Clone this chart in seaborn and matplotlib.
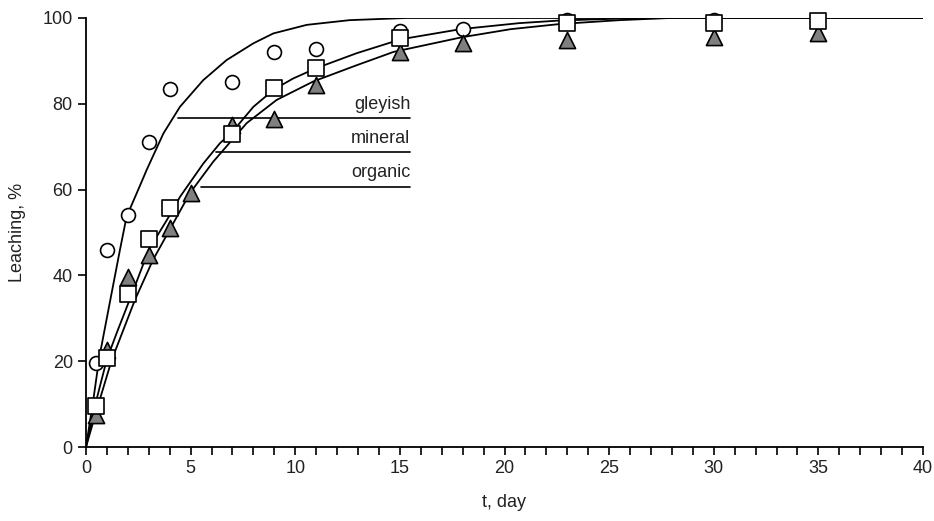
import matplotlib
matplotlib.use("Agg")
import matplotlib.pyplot as plt
import numpy as np
import pandas as pd
import seaborn as sns

# measured points
gley_t = [0.5, 1, 2, 3, 4, 7, 9, 11, 15, 18, 23, 30]
gley_y = [19.5, 46, 54, 71, 83.5, 85, 92, 92.7, 97, 97.4, 99.5, 99.5]
mine_t = [0.5, 1, 2, 3, 4, 7, 9, 11, 15, 23, 30, 35]
mine_y = [9.6, 20.7, 35.6, 48.6, 55.6, 73, 83.6, 88.3, 95.3, 98.9, 98.9, 99.4]
orga_t = [0.5, 1, 2, 3, 4, 5, 7, 9, 11, 15, 18, 23, 30, 35]
orga_y = [7.5, 22.6, 39.7, 44.8, 51, 59.1, 75.1, 76.4, 84.4, 92.1, 94.2, 94.9, 95.6, 96.6]

# model curves
gley_fit_t = [0, 0.35, 0.64, 1.19, 1.62, 1.94, 2.63, 2.9, 3.7, 4.49, 5.6, 6.72, 8.0, 8.95,
              10.55, 12.6, 15.3, 40]
gley_fit_y = [0, 11, 21, 35, 45.9, 53.7, 61.5, 64.6, 73.1, 79.3, 85.5, 90.2, 94.1, 96.4,
              98.4, 99.5, 100, 100]
mine_fit_t = [0, 0.5, 1, 1.5, 2.26, 3, 4, 4.49, 5.61, 6.4, 7, 8, 9, 9.9, 11, 12.94, 14.7, 15,
              17.9, 20.7, 22.6, 25.7, 28, 40]
mine_fit_y = [0, 11, 20.5, 27, 36.5, 46, 54, 58.3, 66.1, 70.8, 73.5, 79.3, 83.4, 85.9, 88.3, 91.8,
              94.5, 95, 97.4, 98.8, 99.4, 99.9, 100, 100]
orga_fit_t = [0, 0.5, 1.23, 2.34, 3.2, 4.97, 6.08, 7.68, 9.11, 10.86, 12.94, 14.7, 17.95, 20.3,
              22.65, 25.5, 27.9, 40]
orga_fit_y = [0, 8.5, 20.3, 34.3, 43.6, 59.2, 66.5, 75.5, 80.9, 85.2, 89.0, 92.1, 95.5, 97.4,
              98.6, 99.5, 100, 100]

labels = ["gleyish", "mineral", "organic"]
label_y = [76.6, 68.7, 60.7]
label_x0 = [4.4, 6.2, 5.5]
label_x1 = 15.5

sns.set_style("ticks")
plt.rcParams["font.family"] = ["Liberation Sans", "DejaVu Sans"]

fig = plt.figure(figsize=(9.34, 5.21), dpi=100)
ax = fig.add_axes([86 / 934, 1 - 447 / 521, (923 - 86) / 934, (447 - 18) / 521])

for t, y in [(gley_fit_t, gley_fit_y), (mine_fit_t, mine_fit_y), (orga_fit_t, orga_fit_y)]:
    sns.lineplot(x=t, y=y, ax=ax, color="black", linewidth=1.3, sort=False,
                 estimator=None, zorder=2)

# reference lines with labels
for name, yy, x0 in zip(labels, label_y, label_x0):
    ax.plot([x0, label_x1], [yy, yy], color="black", linewidth=1.2, zorder=2)
    ax.text(label_x1, yy + 1.2, name, ha="right", va="bottom", fontsize=13, color="#222222")

sns.scatterplot(x=gley_t, y=gley_y, ax=ax, marker="o", s=100, facecolor="white",
                edgecolor="black", linewidth=1.2, zorder=3, clip_on=False)
sns.scatterplot(x=orga_t, y=orga_y, ax=ax, marker="^", s=135, color="#7f7f7f",
                edgecolor="black", linewidth=1.2, zorder=4, clip_on=False)
sns.scatterplot(x=mine_t, y=mine_y, ax=ax, marker="s", s=135, facecolor="white",
                edgecolor="black", linewidth=1.2, zorder=5, clip_on=False)

ax.set_xlim(0, 40)
ax.set_ylim(0, 100)
ax.set_xticks(np.arange(0, 41, 5))
ax.set_xticks(np.arange(0, 41, 1), minor=True)
ax.set_yticks(np.arange(0, 101, 20))
ax.tick_params(axis="both", which="both", direction="out", length=6, width=1.2,
               color="black", labelsize=13, labelcolor="#222222")
sns.despine(ax=ax)
for side in ["left", "bottom"]:
    ax.spines[side].set_linewidth(1.3)
    ax.spines[side].set_color("black")

ax.set_xlabel("t, day", fontsize=13, color="#222222", labelpad=12)
ax.set_ylabel("Leaching, %", fontsize=13, color="#222222", labelpad=12)

fig.savefig("out.png", dpi=100)
